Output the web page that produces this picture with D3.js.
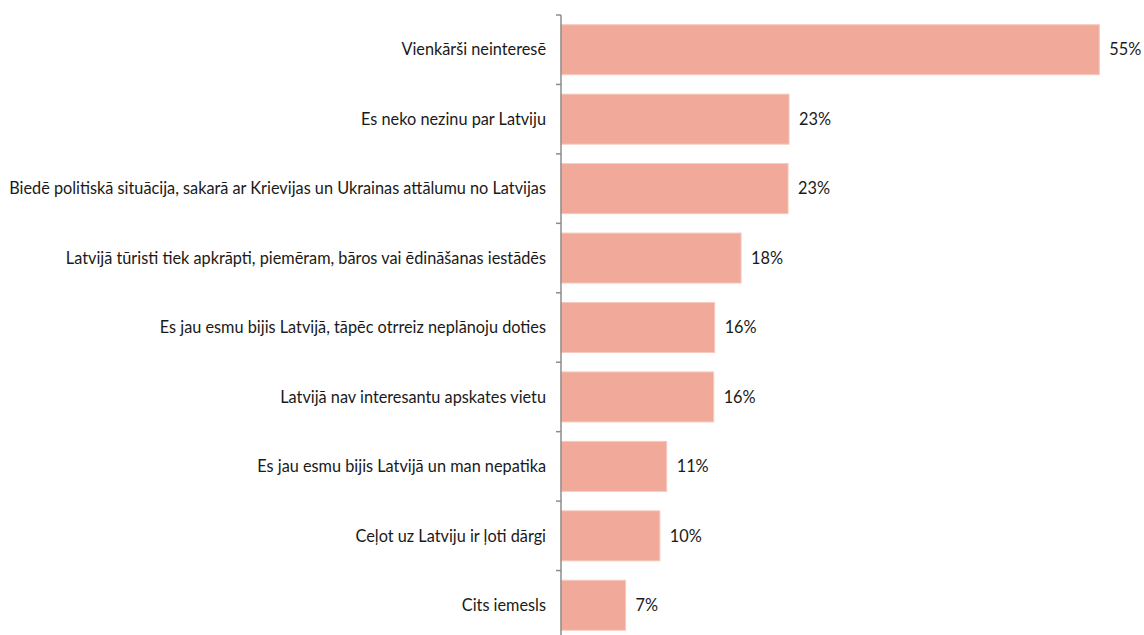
<!DOCTYPE html>
<html>
<head>
<meta charset="utf-8">
<script src="https://cdn.jsdelivr.net/npm/d3@7"></script>
<style>
  html, body { margin: 0; padding: 0; background: #ffffff; }
  svg { display: block; }
</style>
</head>
<body>
<svg id="chart" width="1144" height="635"></svg>
<script>
const categories = [
  "Vienkārši neinteresē",
  "Es neko nezinu par Latviju",
  "Biedē politiskā situācija, sakarā ar Krievijas un Ukrainas attālumu no Latvijas",
  "Latvijā tūristi tiek apkrāpti, piemēram, bāros vai ēdināšanas iestādēs",
  "Es jau esmu bijis Latvijā, tāpēc otrreiz neplānoju doties",
  "Latvijā nav interesantu apskates vietu",
  "Es jau esmu bijis Latvijā un man nepatika",
  "Ceļot uz Latviju ir ļoti dārgi",
  "Cits iemesls"
];
const values = [55.0, 23.3, 23.2, 18.4, 15.7, 15.6, 10.8, 10.1, 6.6];
const valueLabels = ["55%", "23%", "23%", "18%", "16%", "16%", "11%", "10%", "7%"];

const svg = d3.select("#chart");
const font = "Lato, 'Open Sans', sans-serif";

const x = d3.scaleLinear().domain([0, 55]).range([561, 1099.3]);
const y = d3.scaleBand().domain(categories).range([15, 640]).paddingInner(0.28).paddingOuter(0.14);

// bars
svg.append("g").selectAll("rect")
  .data(categories)
  .enter().append("rect")
  .attr("x", x(0))
  .attr("y", d => y(d))
  .attr("width", (d, i) => x(values[i]) - x(0))
  .attr("height", y.bandwidth())
  .attr("fill", "#F1A999")
  .attr("stroke", "#F7C9BE")
  .attr("stroke-width", 1);

// value labels
const vl = svg.append("g").selectAll("text")
  .data(categories)
  .enter().append("text")
  .attr("x", (d, i) => x(values[i]) + 10)
  .attr("y", d => y(d) + y.bandwidth() / 2)
  .attr("dy", "0.35em")
  .attr("font-family", font)
  .attr("font-size", "16px")
  .attr("fill", "#1a1a1a")
  .text((d, i) => valueLabels[i]);
// fit value label size so "55%" spans ~32px
{
  const w = vl.nodes()[0].getComputedTextLength();
  const fs = 16 * 32 / w;
  vl.attr("font-size", fs + "px");
}

// axis
const axisG = svg.append("g").attr("transform", `translate(${x(0)},0)`);
axisG.append("line")
  .attr("x1", 0).attr("x2", 0)
  .attr("y1", 15).attr("y2", 640)
  .attr("stroke", "#8c8c8c").attr("stroke-width", 1.5);
const boundaries = d3.range(categories.length + 1).map(i => 15 + i * y.step());
axisG.selectAll("line.tick")
  .data(boundaries)
  .enter().append("line")
  .attr("class", "tick")
  .attr("x1", -5).attr("x2", 0)
  .attr("y1", d => d).attr("y2", d => d)
  .attr("stroke", "#8c8c8c").attr("stroke-width", 1.5);

const cl = axisG.selectAll("text.cat")
  .data(categories)
  .enter().append("text")
  .attr("class", "cat")
  .attr("x", -15)
  .attr("y", d => y(d) + y.bandwidth() / 2)
  .attr("dy", "0.35em")
  .attr("text-anchor", "end")
  .attr("font-family", font)
  .attr("font-size", "14px")
  .attr("fill", "#1a1a1a")
  .text(d => d);
// fit category label size so the longest spans ~537px
{
  const w = cl.nodes()[2].getComputedTextLength();
  const fs = 14 * 537 / w;
  cl.attr("font-size", fs + "px");
}
</script>
</body>
</html>
